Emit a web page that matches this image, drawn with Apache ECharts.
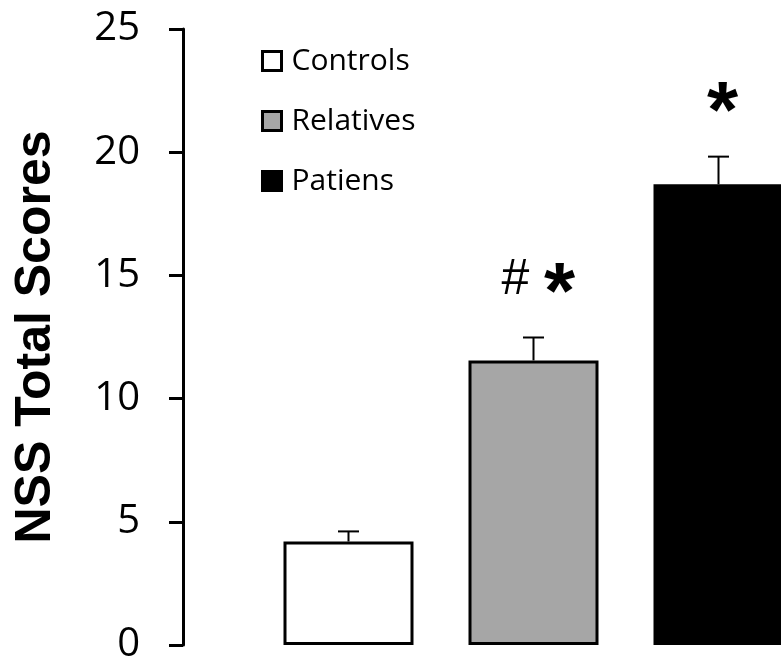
<!DOCTYPE html>
<html>
<head>
<meta charset="utf-8">
<script src="https://cdn.jsdelivr.net/npm/echarts@6/dist/echarts.min.js"></script>
<style>
  html, body { margin: 0; padding: 0; background: #ffffff; }
  #chart { width: 781px; height: 659px; }
</style>
</head>
<body>
<div id="chart"></div>
<script>
// Groups, mean NSS totals and upper error (SEM) per group
const groups = ['Controls', 'Relatives', 'Patiens'];
const meanScores = [4.2, 11.55, 18.7];
const errUpper = [0.41, 0.93, 1.12];
const groupColors = ['#ffffff', '#a6a6a6', '#000000'];
// Significance marks drawn above each error bar
const sigMarks = [[], ['#', '*'], ['*']];
// Value axis range
const yMin = 0, yMax = 25, yStep = 5;

// Font and vertical placement of each mark glyph relative to the whisker cap
const markStyles = {
  '#': { font: '50px "Liberation Sans"', dy: -57 },
  '*': { font: 'bold 80px "Liberation Sans"', dy: -42 }
};

const chart = echarts.init(document.getElementById('chart'), null, { renderer: 'canvas' });

// One bar series per group so the legend gets one entry each; they overlap at the category centre
const barSeries = groups.map((g, i) => ({
  name: g,
  type: 'bar',
  data: groups.map((_, j) => (j === i ? meanScores[i] : '-')),
  barWidth: 130,
  barGap: '-100%',
  itemStyle: { color: groupColors[i], borderColor: '#000000', borderWidth: 3 },
  z: 2
}));

// Upper error whiskers plus significance marks
const errorSeries = {
  type: 'custom',
  data: groups.map((g, i) => [i, meanScores[i], meanScores[i] + errUpper[i]]),
  encode: { x: 0, y: [1, 2] },
  z: 3,
  silent: true,
  renderItem: function (params, api) {
    const i = api.value(0);
    const base = api.coord([i, api.value(1)]);
    const top = api.coord([i, api.value(2)]);
    const children = [
      { type: 'line', shape: { x1: base[0], y1: base[1], x2: top[0], y2: top[1] },
        style: { stroke: '#000000', lineWidth: 2 } },
      { type: 'line', shape: { x1: top[0] - 10.5, y1: top[1], x2: top[0] + 10.5, y2: top[1] },
        style: { stroke: '#000000', lineWidth: 2 } }
    ];
    const marks = sigMarks[i];
    const n = marks.length;
    marks.forEach(function (m, k) {
      const ms = markStyles[m];
      children.push({
        type: 'text',
        x: top[0] + (k - (n - 1) / 2) * 44 + 4,
        y: top[1] + ms.dy,
        style: {
          text: m,
          fill: '#000000',
          font: ms.font,
          textAlign: 'center',
          textVerticalAlign: 'middle'
        }
      });
    });
    return { type: 'group', children: children };
  }
};

chart.setOption({
  animation: false,
  backgroundColor: '#ffffff',
  grid: { left: 256, top: 29, width: 555, height: 616, containLabel: false, outerBoundsMode: 'none' },
  legend: {
    data: groups,
    orient: 'vertical',
    left: 256,
    top: 41,
    icon: 'rect',
    itemWidth: 19,
    itemHeight: 19,
    itemGap: 30,
    selectedMode: false,
    itemStyle: { borderColor: '#000000', borderWidth: 3 },
    textStyle: { fontFamily: 'Open Sans', fontSize: 30, color: '#000000', padding: [0, 0, 0, 5] }
  },
  xAxis: {
    type: 'category',
    data: groups,
    show: false
  },
  yAxis: {
    type: 'value',
    min: yMin,
    max: yMax,
    interval: yStep,
    offset: 73,
    axisLine: { show: true, lineStyle: { color: '#000000', width: 3 } },
    axisTick: { show: true, inside: false, length: 14, lineStyle: { color: '#000000', width: 3 } },
    axisLabel: { color: '#000000', fontSize: 40, fontFamily: 'Open Sans', margin: 43 },
    splitLine: { show: false },
    name: 'NSS Total Scores',
    nameLocation: 'middle',
    nameGap: 122,
    nameTextStyle: { fontFamily: 'Liberation Sans', fontWeight: 'bold', fontSize: 50, color: '#000000' }
  },
  series: barSeries.concat([errorSeries])
});
</script>
</body>
</html>
